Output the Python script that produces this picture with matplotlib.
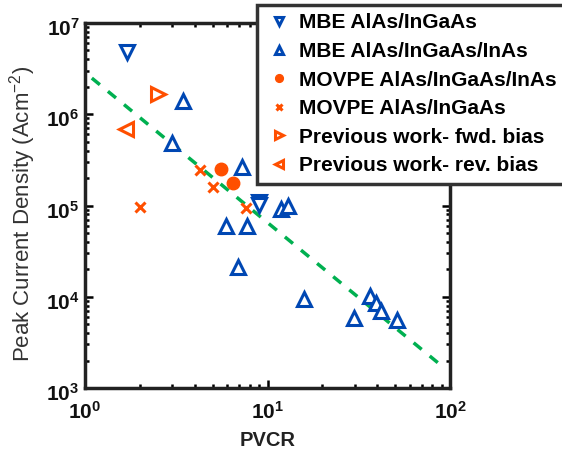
import matplotlib
matplotlib.use("Agg")
import matplotlib.pyplot as plt
import matplotlib.transforms as mtransforms
import numpy as np
from matplotlib.ticker import LogLocator, NullFormatter, FuncFormatter

plt.rcParams['font.family'] = ['Liberation Sans', 'DejaVu Sans']
plt.rcParams['mathtext.fontset'] = 'custom'
plt.rcParams['mathtext.rm'] = 'Liberation Sans'
plt.rcParams['mathtext.it'] = 'Liberation Sans'
plt.rcParams['mathtext.bf'] = 'Liberation Sans:bold'

# Data (PVCR, Peak current density A/cm^2)
mbe_ingaas_x = [1.69, 9.0, 9.0]
mbe_ingaas_y = [4.8e6, 1.09e5, 1.02e5]

mbe_inas_x = [3.46, 2.98, 7.26, 5.94, 7.73, 6.91, 11.8, 12.9, 15.8, 29.6, 36.6, 39.5, 42.1, 51.4]
mbe_inas_y = [1.40e6, 4.84e5, 2.64e5, 5.96e4, 5.96e4, 2.12e4, 9.2e4, 9.9e4, 9.4e3, 5.85e3, 1.02e4, 8.55e3, 6.98e3, 5.56e3]

movpe_inas_x = [5.58, 6.49]
movpe_inas_y = [2.51e5, 1.77e5]

movpe_ingaas_x = [1.99, 4.29, 5.05, 7.64]
movpe_ingaas_y = [9.6e4, 2.45e5, 1.6e5, 9.4e4]

prev_fwd_x = [2.50]
prev_fwd_y = [1.67e6]

prev_rev_x = [1.67]
prev_rev_y = [6.9e5]

fit_x = [1.09, 91.6]
fit_y = [2.49e6, 1.70e3]

labels = ['MBE AlAs/InGaAs', 'MBE AlAs/InGaAs/InAs', 'MOVPE AlAs/InGaAs/InAs',
          'MOVPE AlAs/InGaAs', 'Previous work- fwd. bias', 'Previous work- rev. bias']

blue = '#0047B3'
orange = '#FF4F00'
green = '#00B050'

fig = plt.figure(figsize=(5.62, 4.62), dpi=100)
ax = fig.add_axes([85/562, 1-388/462, 365/562, 365/462])

ax.plot(fit_x, fit_y, '--', color=green, lw=2.5, dashes=(3, 3), zorder=1)

h1, = ax.plot(mbe_ingaas_x, mbe_ingaas_y, 'v', ms=10, mfc='white', mec=blue, mew=2.2, ls='none', label=labels[0])
h2, = ax.plot(mbe_inas_x, mbe_inas_y, '^', ms=10, mfc='white', mec=blue, mew=2.2, ls='none', label=labels[1])
h3, = ax.plot(movpe_inas_x, movpe_inas_y, 'o', ms=9, mfc=orange, mec=orange, ls='none', label=labels[2])
h4, = ax.plot(movpe_ingaas_x, movpe_ingaas_y, 'x', ms=7, mec=orange, mew=2.2, ls='none', label=labels[3])
h5, = ax.plot(prev_fwd_x, prev_fwd_y, '>', ms=10, mfc='white', mec=orange, mew=2.2, ls='none', label=labels[4])
h6, = ax.plot(prev_rev_x, prev_rev_y, '<', ms=10, mfc='white', mec=orange, mew=2.2, ls='none', label=labels[5])

ax.set_xscale('log')
ax.set_yscale('log')
ax.set_xlim(1, 100)
ax.set_ylim(1e3, 1e7)

ax.xaxis.set_major_locator(LogLocator(base=10, numticks=10))
ax.yaxis.set_major_locator(LogLocator(base=10, numticks=10))
ax.xaxis.set_minor_locator(LogLocator(base=10, subs=range(2, 10), numticks=20))
ax.yaxis.set_minor_locator(LogLocator(base=10, subs=range(2, 10), numticks=20))
ax.xaxis.set_minor_formatter(NullFormatter())
ax.yaxis.set_minor_formatter(NullFormatter())

def bold_pow(v, pos):
    return r'$\mathbf{10^{%d}}$' % int(round(np.log10(v)))

ax.xaxis.set_major_formatter(FuncFormatter(bold_pow))
ax.yaxis.set_major_formatter(FuncFormatter(bold_pow))

ax.tick_params(which='both', direction='in', top=True, right=True, width=1.8, labelsize=15,
               labelcolor='#111111')
ax.tick_params(which='major', length=6)
ax.tick_params(which='minor', length=3)
ax.tick_params(axis='x', which='major', pad=9)
ax.tick_params(axis='y', which='major', pad=4)
for s in ax.spines.values():
    s.set_linewidth(2.5)
    s.set_color('#222222')

fig.canvas.draw()
# shift y tick labels slightly down (base aligned like reference)
offset = mtransforms.ScaledTranslation(0, -4/100, fig.dpi_scale_trans)
for lab in ax.get_yticklabels():
    lab.set_transform(lab.get_transform() + offset)

ax.set_xlabel('PVCR', fontsize=14.5, fontweight='bold', labelpad=6, color='#222222')
ax.set_ylabel(r'Peak Current Density (Acm$\mathrm{^{-2}}$)', fontsize=16, color='#333333')
ax.yaxis.set_label_coords(-0.128, 0.477)

leg = fig.legend(handles=[h1, h2, h3, h4, h5, h6], loc='upper left',
                 bbox_to_anchor=(257/562, 1-5/462), prop={'size': 15, 'weight': 'bold'},
                 markerscale=0.62, frameon=True, fancybox=False, borderpad=0.4,
                 labelspacing=0.46, handlelength=1.32, handletextpad=0.3, borderaxespad=0)
leg.get_frame().set_edgecolor('#333333')
leg.get_frame().set_linewidth(2.5)
leg.get_frame().set_alpha(1)

fig.savefig('out.png', dpi=100)
